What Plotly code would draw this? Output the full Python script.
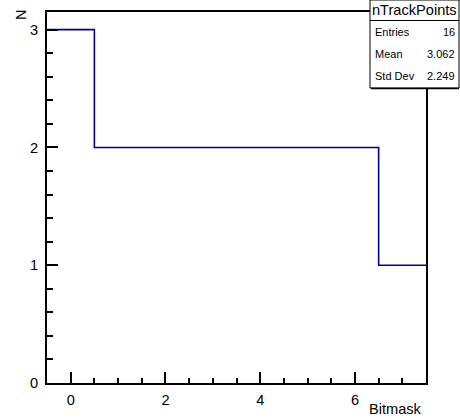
import plotly.graph_objects as go

# Histogram data (bin edges / contents)
bin_edges = [-0.5, 0.5, 1.5, 2.5, 3.5, 4.5, 5.5, 6.5, 7.5]
bin_contents = [3, 2, 2, 2, 2, 2, 2, 1]
hist_name = "nTrackPoints"
stat_labels = ["Entries", "Mean", "Std Dev"]
stat_values = ["16", "3.062", "2.249"]
x_title = "Bitmask"
y_title = "N"
y_ticks = [0, 1, 2, 3]
x_ticks = [0, 2, 4, 6]

W, H = 460, 418
L, R, T, B = 47, 426, 12, 383

def px(x):
    return (x - L) / (R - L)

def py(y):
    return (B - y) / (B - T)

FONT = "Liberation Sans, Arial, Helvetica, sans-serif"

fig = go.Figure()
fig.add_trace(go.Scatter(
    x=bin_edges,
    y=bin_contents + [bin_contents[-1]],
    mode="lines",
    line=dict(color="#000099", width=1.6, shape="hv"),
    hoverinfo="skip",
    showlegend=False,
))

axis_common = dict(
    showgrid=False, zeroline=False, automargin=False,
    showline=True, linecolor="black", linewidth=2, mirror=True,
    ticks="inside", tickcolor="black", tickwidth=1.5,
    tickfont=dict(family=FONT, size=14.6, color="black"),
)

fig.update_xaxes(
    range=[-0.5, 7.5], tickvals=x_ticks, ticklen=11,
    minor=dict(dtick=0.5, tick0=-0.5, ticks="inside", ticklen=5.5, tickwidth=1.5, tickcolor="black"),
    ticklabelstandoff=2,
    **axis_common,
)
fig.update_yaxes(
    range=[0, 3.15], tickvals=y_ticks, ticklen=11,
    minor=dict(dtick=0.2, tick0=0, ticks="inside", ticklen=5.5, tickwidth=1.5, tickcolor="black"),
    ticklabelstandoff=4,
    **axis_common,
)

annotations = [
    dict(text=x_title, x=px(424), y=py(409), xref="paper", yref="paper",
         xanchor="right", yanchor="middle", showarrow=False,
         font=dict(family=FONT, size=14.6, color="black")),
    dict(text=y_title, x=px(21), y=py(15), xref="paper", yref="paper",
         xanchor="center", yanchor="middle", showarrow=False, textangle=-90,
         font=dict(family=FONT, size=14.6, color="black")),
    dict(text=hist_name, x=px(414), y=py(10), xref="paper", yref="paper",
         xanchor="center", yanchor="middle", showarrow=False,
         font=dict(family=FONT, size=14.6, color="black")),
]
row_y = [32, 54, 76]
for lab, val, yy in zip(stat_labels, stat_values, row_y):
    annotations.append(dict(text=lab, x=px(373), y=py(yy), xref="paper", yref="paper",
                            xanchor="left", yanchor="middle", showarrow=False,
                            font=dict(family=FONT, size=11, color="black")))
    annotations.append(dict(text=val, x=px(457), y=py(yy), xref="paper", yref="paper",
                            xanchor="right", yanchor="middle", showarrow=False,
                            font=dict(family=FONT, size=11, color="black")))

shapes = [
    dict(type="rect", xref="paper", yref="paper", x0=px(370), x1=px(459), y0=py(88), y1=py(0),
         line=dict(color="black", width=1), fillcolor="white", layer="above"),
    dict(type="line", xref="paper", yref="paper", x0=px(370), x1=px(459), y0=py(20.5), y1=py(20.5),
         line=dict(color="black", width=1), layer="above"),
    dict(type="line", xref="paper", yref="paper", x0=px(371), x1=px(459), y0=py(88.5), y1=py(88.5),
         line=dict(color="black", width=1.5), layer="above"),
]

fig.update_layout(
    width=W, height=H,
    margin=dict(l=L, r=W - R, t=T, b=H - B, pad=0, autoexpand=False),
    paper_bgcolor="white", plot_bgcolor="white",
    annotations=annotations, shapes=shapes,
    font=dict(family=FONT, color="black"),
    showlegend=False,
)

fig.write_html(
    "out.html",
    config={"displayModeBar": False},
    post_script="document.body.style.margin='0';document.body.style.overflow='hidden';",
)
